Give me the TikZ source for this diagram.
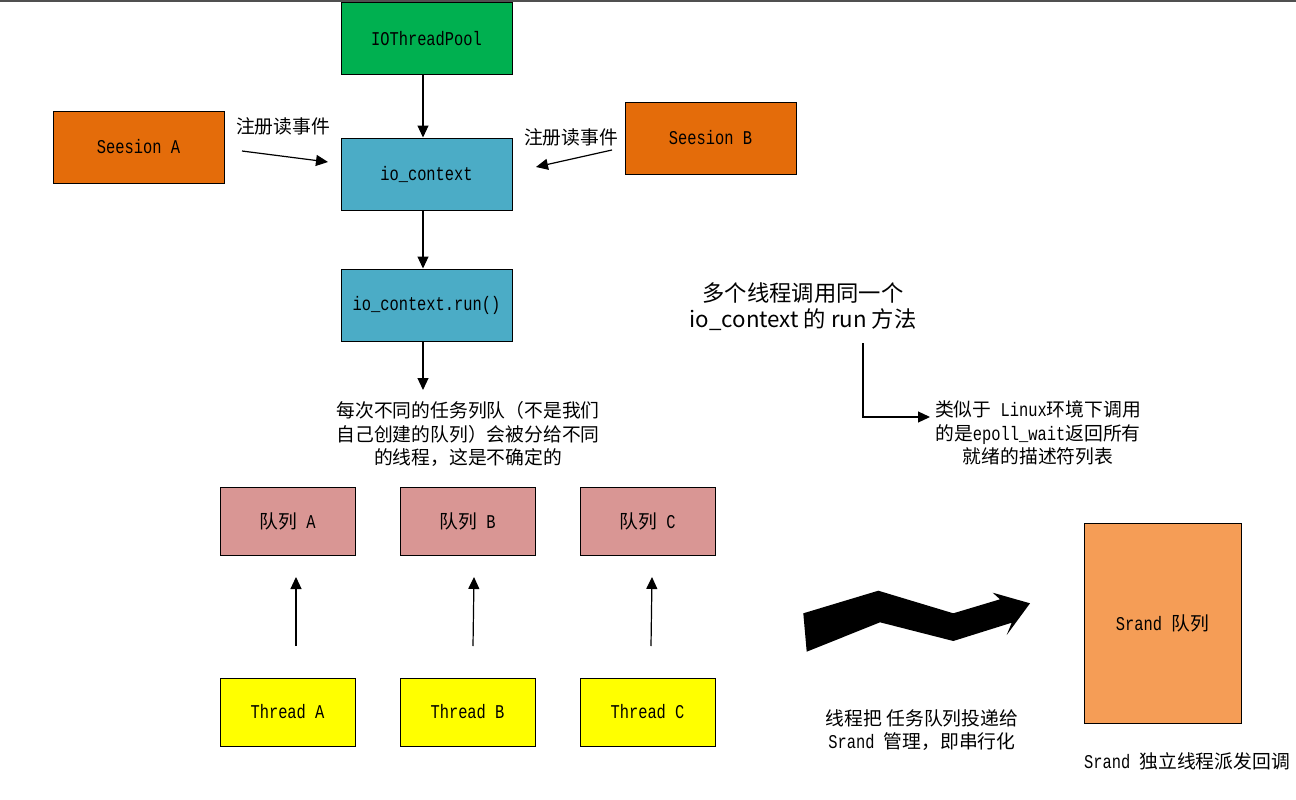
\documentclass[tikz,border=0pt]{standalone}
\usepackage{fontspec}
\setmainfont{Liberation Mono}[FakeStretch=0.79]
\newfontfamily\cjk{Noto Sans CJK SC}
\newcommand\zh[1]{{\cjk\fontsize{18.8}{23.5}\selectfont #1}}
\usetikzlibrary{arrows.meta}
\definecolor{poolgreen}{HTML}{00B050}
\definecolor{ctxblue}{HTML}{4BACC6}
\definecolor{sessorange}{HTML}{E46C0A}
\definecolor{queuepink}{HTML}{D99694}
\definecolor{threadyellow}{HTML}{FFFF00}
\definecolor{srandorange}{HTML}{F59D56}
\definecolor{topgray}{HTML}{505050}
\begin{document}
\begin{tikzpicture}[x=1pt,y=-1pt,
  box/.style={draw=black, line width=1pt, minimum width=171pt, minimum height=72pt, inner sep=0pt,
    font=\fontsize{19.5}{22}\selectfont},
  qbox/.style={draw=black, line width=1pt, minimum width=135pt, minimum height=68pt, inner sep=0pt,
    font=\fontsize{19.5}{22}\selectfont},
  lbl/.style={inner sep=0pt, align=center, font=\fontsize{19.5}{23.5}\selectfont},
  arr/.style={line width=1.2pt, -{Triangle[length=12pt,width=11pt]}},
]
\useasboundingbox (0,0) rectangle (1296,800);
\fill[topgray] (0,0) rectangle (1296,1.6);

% top column
\node[box, fill=poolgreen] (pool) at (426.5,39) {IOThreadPool};
\node[box, fill=ctxblue] (ctx) at (426.5,174) {io\_context};
\node[box, fill=ctxblue] (run) at (426.5,305) {io\_context.run()};
\node[box, fill=sessorange] (sa) at (138.5,147) {Seesion A};
\node[box, fill=sessorange] (sb) at (710.5,138) {Seesion B};

\draw[arr] ([xshift=-3.5pt]pool.south) -- ([xshift=-3.5pt]ctx.north);
\draw[arr] ([xshift=-3.5pt]ctx.south) -- ([xshift=-3.5pt]run.north);
\coordinate (runend) at (423,390);
\draw[arr] ([xshift=-3.5pt]run.south) -- (runend);

% register labels and arrows
\node[lbl] (regA) at (283,126) {\zh{注册读事件}};
\node[lbl] (regB) at (571,137) {\zh{注册读事件}};
\coordinate (a1) at (242,151);
\coordinate (a2) at (328,162);
\coordinate (b1) at (612,150);
\coordinate (b2) at (536,167);
\draw[arr] (a1) -- (a2);
\draw[arr] (b1) -- (b2);

% description
\node[lbl] (desc) at (468,434) {\zh{每次不同的任务列队（不是我们}\\\zh{自己创建的队列）会被分给不同}\\\zh{的线程，这是不确定的}};

% queues
\node[qbox, fill=queuepink] (qa) at (287.5,521) {\zh{队列} A};
\node[qbox, fill=queuepink] (qb) at (467.5,521) {\zh{队列} B};
\node[qbox, fill=queuepink] (qc) at (647.5,521) {\zh{队列} C};

% threads
\node[qbox, fill=threadyellow] (ta) at (287.5,712) {Thread A};
\node[qbox, fill=threadyellow] (tb) at (467.5,712) {Thread B};
\node[qbox, fill=threadyellow] (tc) at (647.5,712) {Thread C};

\coordinate (ta1) at (296,646); \coordinate (ta2) at (296,577);
\coordinate (tb1) at (473,646); \coordinate (tb2) at (474,577);
\coordinate (tc1) at (651,646); \coordinate (tc2) at (652,577);
\draw[arr] (ta1) -- (ta2);
\draw[arr] (tb1) -- (tb2);
\draw[arr] (tc1) -- (tc2);

% big text
\node[inner sep=0pt, align=center, font=\cjk\fontsize{22.3}{26}\selectfont] (multi) at (803,307)
  {多个线程调用同一个\\io\_context 的 run 方法};
\coordinate (e1) at (863,343);
\coordinate (e2) at (930,417);
\draw[arr] (e1) |- (e2);
\node[lbl] (sim) at (1038,433) {\zh{类似于} Linux\zh{环境下调用}\\\zh{的是}epoll\_wait\zh{返回所有}\\\zh{就绪的描述符列表}};

% zigzag arrow
\fill[black] (803.3,613.3) -- (878.3,590.7) -- (953.3,613.3) -- (1000,599.3) -- (992.7,592.7)
  -- (1030,603.3) -- (1006.7,635) -- (1011.7,622.7) -- (953.3,641) -- (880,622.3)
  -- (806.7,651.7) -- cycle;

\node[lbl] (post) at (922,730) {\zh{线程把 任务队列投递给}\\Srand \zh{管理，即串行化}};

% srand
\node[draw=black, line width=1pt, fill=srandorange, minimum width=157pt, minimum height=200pt,
  inner sep=0pt, font=\fontsize{19.5}{22}\selectfont] (srand) at (1162.5,623) {Srand \zh{队列}};
\node[lbl] (srandlbl) at (1187,761) {Srand \zh{独立线程派发回调}};
\end{tikzpicture}
\end{document}
